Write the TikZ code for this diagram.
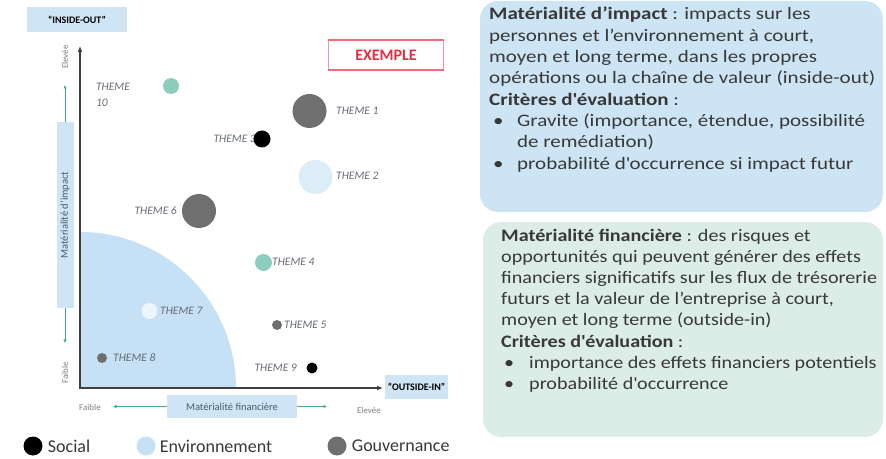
\documentclass[tikz,border=0pt]{standalone}
\usepackage{fontspec}
\setmainfont{Carlito}
\newfontfamily\impactfont[FakeStretch=1.2]{Carlito}
\newfontfamily\financefont[FakeStretch=1.15]{Carlito}
\usetikzlibrary{arrows.meta,positioning}

\definecolor{axisgray}{HTML}{3F3F3F}
\definecolor{labelblue}{HTML}{CFE5F5}
\definecolor{envblue}{HTML}{C6E1F5}
\definecolor{lightenv}{HTML}{DDEDF7}
\definecolor{palewhite}{HTML}{EEF5FA}
\definecolor{tealdot}{HTML}{8CCDBE}
\definecolor{govgray}{HTML}{6F6F6F}
\definecolor{arrowgreen}{HTML}{3FAA7C}
\definecolor{exred}{HTML}{E0303F}
\definecolor{impactfill}{HTML}{CDE4F4}
\definecolor{financefill}{HTML}{DCEDE7}
\definecolor{txtgray}{HTML}{383838}
\definecolor{themetext}{HTML}{666B75}
\definecolor{scaletext}{HTML}{4A5A70}

\tikzset{
  axisline/.style={draw=axisgray, line width=1.6pt, {Latex[length=6pt,width=5pt]}-{Latex[length=6pt,width=5pt]}},
  greenarrow/.style={draw=arrowgreen, line width=1pt, -{Latex[length=3.5pt,width=3.5pt]}},
  outlabel/.style={fill=labelblue, font=\bfseries\fontsize{10}{12}\selectfont, inner sep=0pt},
  scalelabel/.style={fill=labelblue, text=scaletext, font=\fontsize{10.5}{12}\selectfont, inner sep=0pt},
  endlabel/.style={text=gray, font=\fontsize{9}{10}\selectfont, inner sep=0pt},
  dot/.style={circle, inner sep=0pt, minimum size=#1},
  themelabel/.style={text=themetext, font=\itshape\fontsize{11.5}{16}\selectfont, inner sep=0pt},
  legendtext/.style={text=txtgray, font=\fontsize{18}{20}\selectfont, inner sep=0pt},
  infobox/.style={rounded corners=18pt, inner sep=0pt},
  boxtext/.style={inner sep=0pt, align=left, text=txtgray},
  exbox/.style={draw=exred!50, line width=.6pt, minimum width=115pt, minimum height=30pt, text=exred, font=\bfseries\fontsize{16}{18}\selectfont}
}

\begin{document}
\begin{tikzpicture}[x=1pt,y=1pt]
  \useasboundingbox (0,0) rectangle (886,458);
  %绘制右侧两个说明框
  \node[infobox, fill=impactfill, minimum width=403pt, minimum height=211pt] (impact) at (681.5,351.5) {};
  \node[infobox, fill=financefill, minimum width=400pt, minimum height=215pt] (finance) at (683,128.5) {};
  \node[boxtext, font=\impactfont\fontsize{17.5}{21.3}\selectfont, anchor=north west] (impacttxt) at (489,451) {%
    \textbf{Matérialité d’impact} : impacts sur les\\
    personnes et l’environnement à court,\\
    moyen et long terme, dans les propres\\
    opérations ou la chaîne de valeur (inside-out)\\
    \textbf{Critères d\textquotesingle évaluation} :\\
    \hspace*{4pt}\makebox[24pt][l]{•}Gravite (importance, étendue, possibilité\\
    \hspace*{28pt}de remédiation)\\
    \hspace*{4pt}\makebox[24pt][l]{•}probabilité d\textquotesingle occurrence si impact futur};
  \node[boxtext, font=\financefont\fontsize{17.5}{21.1}\selectfont, anchor=north west] (financetxt) at (501,229) {%
    \textbf{Matérialité financière} : des risques et\\
    opportunités qui peuvent générer des effets\\
    financiers significatifs sur les flux de trésorerie\\
    futurs et la valeur de l’entreprise à court,\\
    moyen et long terme (outside-in)\\
    \textbf{Critères d\textquotesingle évaluation} :\\
    \hspace*{3pt}\makebox[25pt][l]{•}importance des effets financiers potentiels\\
    \hspace*{3pt}\makebox[25pt][l]{•}probabilité d\textquotesingle occurrence};
  %绘制四分之一圆
  \coordinate (O) at (80,70);
  \fill[envblue] (O) -- (80,226) arc[start angle=90, end angle=0, radius=156pt] -- cycle;
  %绘制坐标轴
  \coordinate (ytop) at (80,412);
  \coordinate (xend) at (383,70);
  \draw[axisline] (ytop) -- (O) -- (xend);
  \node[outlabel, minimum width=100pt, minimum height=25pt] (insideout) at (77,438.5) {``INSIDE-OUT''};
  \node[outlabel, minimum width=63pt, minimum height=23pt] (outsidein) at (416.5,71) {``OUTSIDE-IN''};
  %纵向刻度说明
  \node[scalelabel, rotate=90, minimum width=186pt, minimum height=17pt] (vscale) at (65,243) {Matérialité d’impact};
  \coordinate (vtop) at (65,373);
  \coordinate (vbot) at (65,115);
  \draw[greenarrow] (vscale.east) -- (vtop);
  \draw[greenarrow] (vscale.west) -- (vbot);
  \node[endlabel, rotate=90] (vhigh) at (65,401) {Elevée};
  \node[endlabel, rotate=90] (vlow) at (65,85) {Faible};
  %横向刻度说明
  \node[scalelabel, minimum width=130pt, minimum height=23pt] (hscale) at (232,51.5) {Matérialité financière};
  \coordinate (hleft) at (113,51.5);
  \coordinate (hright) at (327,51.5);
  \draw[greenarrow] (hscale.west) -- (hleft);
  \draw[greenarrow] (hscale.east) -- (hright);
  \node[endlabel] (hlow) at (90,51) {Faible};
  \node[endlabel] (hhigh) at (369,48) {Elevée};
  %EXEMPLE
  \node[exbox] (exemple) at (386,403) {EXEMPLE};
  \draw[exred!70, line width=2pt] (exemple.north west) -- (exemple.north east);
  \draw[exred!70, line width=2pt] (exemple.south west) -- (exemple.south east);
  %绘制主题标签
  \foreach \n/\x/\y/\a in {1/336/347/west, 2/336/282/west, 3/256/319/east, 4/272/196/west, 5/284/133/west,
                          6/177/247/east, 7/160/147/west, 8/113/100/west, 9/297/90/east}
    {\node[themelabel, anchor=\a] (l\n) at (\x,\y) {THEME \n};}
  \node[themelabel, align=left] (l10) at (113,363) {THEME\\10};
  %绘制主题圆点
  \foreach \n/\x/\y/\d/\c in {1/309.5/347/34/govgray, 2/315.5/281/34/lightenv, 3/262/319/17/black,
                              4/263.5/195.5/17/tealdot, 5/277/133/10/govgray, 6/199/247/34/govgray,
                              7/149.5/147/16/palewhite, 8/102/100/10/govgray, 9/312/90/11/black,
                              10/171/372/16/tealdot}
    {\node[dot=\d pt, fill=\c] (t\n) at (\x,\y) {};}
  %绘制图例
  \node[dot=19pt, fill=black] (social) at (33,12) {};
  \node[legendtext, right=5pt of social] (socialtxt) {Social};
  \node[dot=19pt, fill=envblue] (env) at (146,12) {};
  \node[legendtext, right=4pt of env] (envtxt) {Environnement};
  \node[dot=19pt, fill=govgray] (gov) at (337,12) {};
  \node[legendtext, right=5pt of gov] (govtxt) {Gouvernance};
\end{tikzpicture}
\end{document}
